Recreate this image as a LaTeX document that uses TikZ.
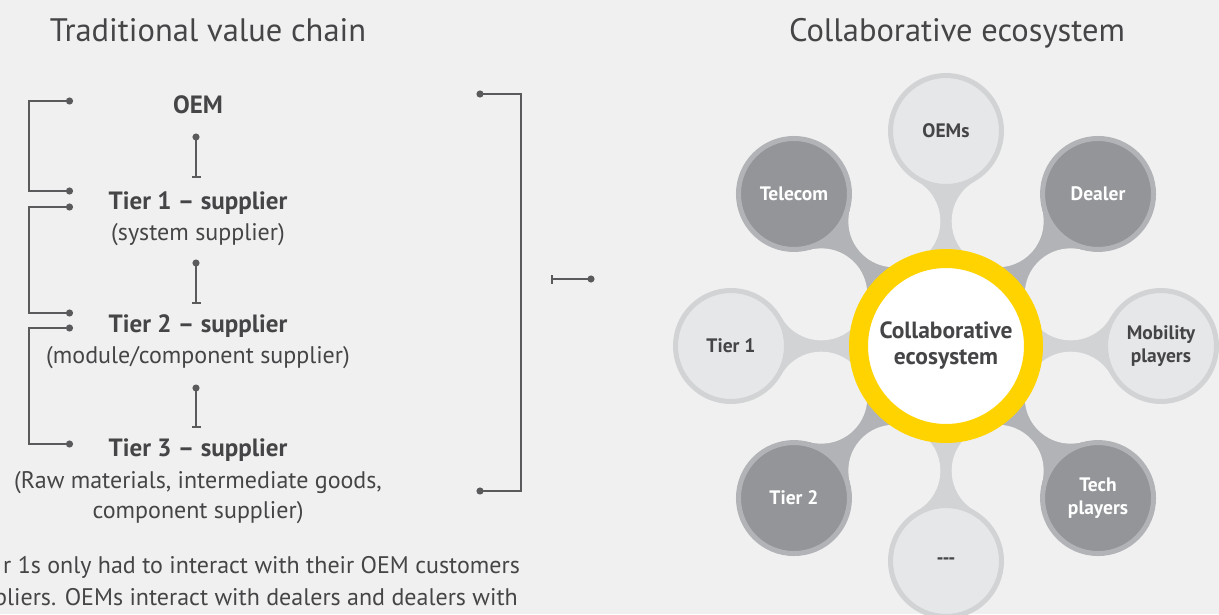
\documentclass[tikz,border=0pt]{standalone}
\usepackage{fontspec}
\setmainfont{PT Sans}
\usepackage{xcolor}
\usetikzlibrary{arrows.meta, positioning, calc, backgrounds}

\definecolor{paper}{HTML}{F0F0F0}
\definecolor{ink}{HTML}{454548}
\definecolor{wire}{HTML}{5A5A5D}
\definecolor{eyyellow}{HTML}{FFD300}
\definecolor{litefill}{HTML}{E6E7E8}
\definecolor{liteedge}{HTML}{D1D3D4}
\definecolor{darkfill}{HTML}{939598}
\definecolor{darkedge}{HTML}{B1B3B6}

\begin{document}
\begin{tikzpicture}[
  x=1pt, y=-1pt,
  heading/.style={anchor=base, inner sep=0pt, text=ink, font=\fontsize{32.5}{36}\selectfont},
  level/.style={anchor=base, inner sep=0pt, text=ink, font=\fontsize{24}{28}\selectfont},
  tier/.style={level, font=\fontsize{25}{28}\selectfont\bfseries},
  bracket/.style={draw=wire, line width=2pt, {Circle[length=7pt]}-{Circle[length=7pt]}},
  rung/.style={draw=wire, line width=1.6pt, {Circle[length=7pt]}-{Bar[width=9pt, length=1.6pt]}},
  sat/.style={circle, minimum size=111pt, line width=5pt, inner sep=0pt, align=center,
    font=\fontsize{19.5}{23}\selectfont\bfseries},
  lite/.style={sat, fill=litefill, draw=liteedge, text=ink},
  dark/.style={sat, fill=darkfill, draw=darkedge, text=white},
  hubring/.style={circle, minimum size=175pt, line width=19pt, inner sep=0pt, draw=eyyellow,
    fill=white, text=ink, align=center, font=\fontsize{23.5}{26}\selectfont\bfseries},
]
\useasboundingbox (0,0) rectangle (1219,614);
\clip (0,0) rectangle (1219,614);

% traditional value chain
\node[heading] (chaintitle) at (208,41) {Traditional value chain};
\node[tier] (oem) at (198,113) {OEM};
\node[tier] (tier1) at (198,209) {Tier 1 – supplier};
\node[level] (tier1sub) at (198,240) {(system supplier)};
\node[tier] (tier2) at (198,332) {Tier 2 – supplier};
\node[level] (tier2sub) at (198,363) {(module/component supplier)};
\node[tier] (tier3) at (198,456) {Tier 3 – supplier};
\node[level] (tier3sub) at (198,488) {(Raw materials, intermediate goods,};
\node[level] (tier3sub2) at (198,518) {component supplier)};

\coordinate (oemL) at (73,101);
\coordinate (t1La) at (73,191);
\coordinate (t1Lb) at (73,207);
\coordinate (t2La) at (73,313);
\coordinate (t2Lb) at (73,328);
\coordinate (t3L) at (73,444);
\coordinate (rung1a) at (196,133.5);
\coordinate (rung1b) at (196,177.5);
\coordinate (rung2a) at (196,259.5);
\coordinate (rung2b) at (196,303.5);
\coordinate (rung3a) at (196,384.5);
\coordinate (rung3b) at (196,427.5);
\coordinate (spanTop) at (476.5,94);
\coordinate (spanBot) at (476.5,491);
\coordinate (shiftR) at (594.5,279);
\coordinate (shiftL) at (551,279);

\draw[bracket] (oemL) -- ++(-44,0) |- (t1La);
\draw[bracket] (t1Lb) -- ++(-44,0) |- (t2La);
\draw[bracket] (t2Lb) -- ++(-44,0) |- (t3L);
\draw[rung] (rung1a) -- (rung1b);
\draw[rung] (rung2a) -- (rung2b);
\draw[rung] (rung3a) -- (rung3b);
\draw[bracket] (spanTop) -- ++(44.5,0) |- (spanBot);
\draw[rung] (shiftR) -- (shiftL);

\node[level, anchor=base west] (note1) at (3,573) {r 1s only had to interact with their OEM customers};
\node[level, anchor=base west] (note2) at (-6,605) {pliers. OEMs interact with dealers and dealers with};

% collaborative ecosystem
\node[heading] (ecotitle) at (957,41) {Collaborative ecosystem};
\node[hubring] (hub) at (946,346) {Collaborative\\ecosystem};
\foreach \ang/\nm/\kind/\lbl in {-90/ecooems/lite/OEMs, -45/ecodealer/dark/Dealer,
    0/ecomobility/lite/{Mobility\\players}, 45/ecotech/dark/{Tech\\players},
    90/ecomore/lite/{-{}-{}-}, 135/ecotier2/dark/Tier 2, 180/ecotier1/lite/Tier 1,
    225/ecotelecom/dark/Telecom}
  \node[\kind] (\nm) at ($(hub.center)+(\ang:215)$) {\lbl};

\begin{pgfonlayer}{background}
  \fill[paper] (0,0) rectangle (1219,614);
  \foreach \ang/\nm/\edge in {-90/ecooems/liteedge, -45/ecodealer/darkedge,
      0/ecomobility/liteedge, 45/ecotech/darkedge, 90/ecomore/liteedge,
      135/ecotier2/darkedge, 180/ecotier1/liteedge, 225/ecotelecom/darkedge}
    \fill[\edge] (hub.center) -- ($(hub.center)+(\ang-22.5:135)$) -- (\nm.center)
      -- ($(hub.center)+(\ang+22.5:135)$) -- cycle;
  \foreach \k in {0,...,7}
    \fill[paper] ($(hub.center)+(22.5+45*\k:135)$) circle[radius=46];
\end{pgfonlayer}
\end{tikzpicture}
\end{document}
